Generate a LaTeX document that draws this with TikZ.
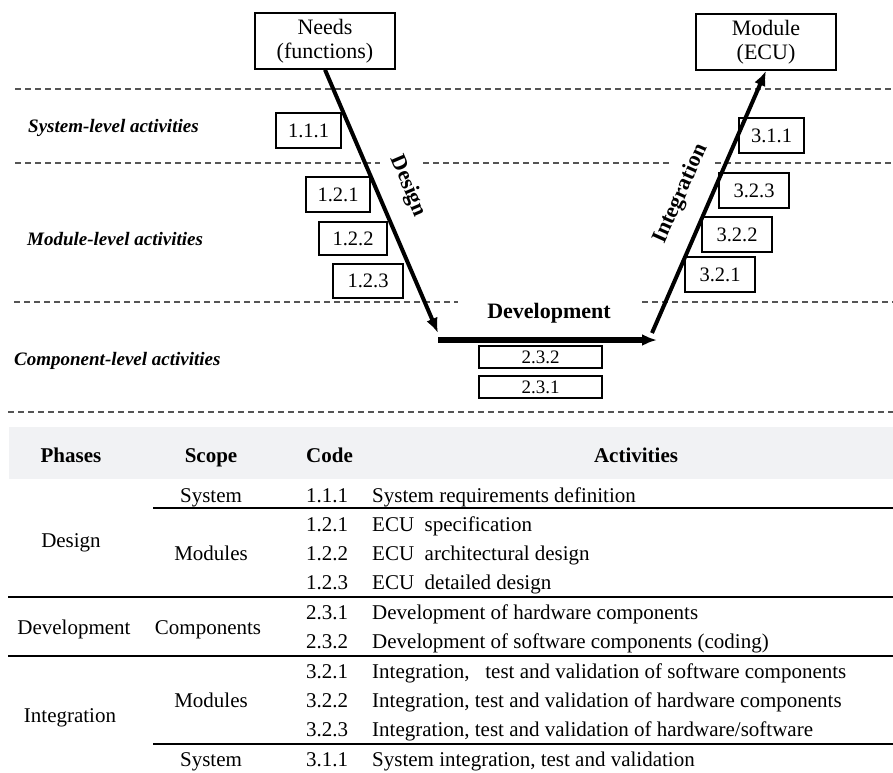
\documentclass[tikz,border=0pt]{standalone}
\usepackage{fontspec}
\setmainfont{Liberation Serif}
\usetikzlibrary{arrows.meta}
\definecolor{hdrgray}{HTML}{F1F2F4}
\definecolor{dashgray}{HTML}{555555}
\begin{document}
\begin{tikzpicture}[x=1pt,y=-1pt,
  lvl/.style={font=\fontsize{19}{22}\selectfont\bfseries\itshape,anchor=base west,inner sep=0},
  codebox/.style={draw,line width=1.3pt,fill=white,inner sep=0,font=\fontsize{20.5}{22}\selectfont},
  endbox/.style={draw,line width=1.5pt,fill=white,align=center,inner sep=0,minimum width=140,minimum height=56,font=\fontsize{22}{24}\selectfont},
  phaselbl/.style={font=\fontsize{22}{25}\selectfont\bfseries,inner sep=0},
  guide/.style={draw=dashgray,line width=1.1pt,dash pattern=on 6pt off 4pt},
  flow/.style={line width=4pt,-{Latex[length=15pt,width=12pt]}},
  tb/.style={font=\fontsize{21}{25}\selectfont,anchor=base,inner sep=0},
  tbl/.style={tb,anchor=base west},
  tbh/.style={tb,font=\fontsize{21}{25}\selectfont\bfseries}]
\useasboundingbox (0,0) rectangle (893,772);
% level bands
\draw[guide] (15,89)--(893,89);
\draw[guide] (15,163)--(380,163);\draw[guide] (423,163)--(670,163);\draw[guide] (715,163)--(893,163);
\draw[guide] (14,302)--(458,302);\draw[guide] (642,302)--(893,302);\draw[guide] (8,412)--(893,412);
\node[lvl] (syslvl) at (28,132) {System-level activities};
\node[lvl] (modlvl) at (27,245) {Module-level activities};
\node[lvl] (cmplvl) at (14,365) {Component-level activities};
% V shape
\node[endbox] (needs) at (325,41) {Needs\\(functions)};
\node[endbox] (module) at (766,42) {Module\\(ECU)};
\node[phaselbl,rotate=-67] (designlbl) at (408,186) {Design};
\node[phaselbl,rotate=66] (integlbl) at (681,194) {Integration};
\node[phaselbl,anchor=base] (devlbl) at (549,318) {Development};
\node[codebox,minimum width=65,minimum height=35] (c111) at (308.5,130.5) {1.1.1};
\node[codebox,minimum width=64,minimum height=35] (c121) at (338,194.5) {1.2.1};
\node[codebox,minimum width=68,minimum height=33] (c122) at (353,238.5) {1.2.2};
\node[codebox,minimum width=70,minimum height=34] (c123) at (368,281) {1.2.3};
\node[codebox,minimum width=65,minimum height=35] (c311) at (771.5,135.5) {3.1.1};
\node[codebox,minimum width=70,minimum height=35] (c323) at (754,190.5) {3.2.3};
\node[codebox,minimum width=70,minimum height=35] (c322) at (737,234.5) {3.2.2};
\node[codebox,minimum width=70,minimum height=35] (c321) at (720,274.5) {3.2.1};
\node[codebox,minimum width=123,minimum height=22,font=\fontsize{19}{20}\selectfont] (c232) at (540.5,357) {2.3.2};
\node[codebox,minimum width=123,minimum height=22,font=\fontsize{19}{20}\selectfont] (c231) at (540.5,387) {2.3.1};
\coordinate (vleft) at (438,333);\coordinate (vright) at (652,333);
\coordinate (devA) at (438,340);\coordinate (devB) at (657,340);
\draw[flow] (needs.south)--(vleft);
\draw[flow,line width=6pt] (devA)--(devB);
\draw[flow] (vright)--(module.south);
% table
\fill[hdrgray] (9,427) rectangle (893,479);
\node[tbh] (hphase) at (71,462) {Phases};\node[tbh] (hscope) at (211,462) {Scope};
\node[tbh,anchor=base west] (hcode) at (306,462) {Code};\node[tbh] (hact) at (636,462) {Activities};
\node[tb] (pdes) at (71,547) {Design};\node[tb] (pdev) at (74,634) {Development};\node[tb] (pint) at (70,722) {Integration};
\node[tb] (s1) at (211,502) {System};\node[tb] (s2) at (211,560) {Modules};\node[tb] (s3) at (208,634) {Components};
\node[tb] (s4) at (211,707) {Modules};\node[tb] (s5) at (211,766) {System};
\node[tbl] (k111) at (306,502) {1.1.1};\node[tbl] (a111) at (372,502) {System requirements definition};
\node[tbl] (k121) at (306,531) {1.2.1};\node[tbl] (a121) at (372,531) {ECU\ \ specification};
\node[tbl] (k122) at (306,560) {1.2.2};\node[tbl] (a122) at (372,560) {ECU\ \ architectural design};
\node[tbl] (k123) at (306,589) {1.2.3};\node[tbl] (a123) at (372,589) {ECU\ \ detailed design};
\node[tbl] (k231) at (306,619) {2.3.1};\node[tbl] (a231) at (372,619) {Development of hardware components};
\node[tbl] (k232) at (306,648) {2.3.2};\node[tbl] (a232) at (372,648) {Development of software components (coding)};
\node[tbl] (k321) at (306,678) {3.2.1};\node[tbl] (a321) at (372,678) {Integration,\ \ \ test and validation of software components};
\node[tbl] (k322) at (306,707) {3.2.2};\node[tbl] (a322) at (372,707) {Integration, test and validation of hardware components};
\node[tbl] (k323) at (306,736) {3.2.3};\node[tbl] (a323) at (372,736) {Integration, test and validation of hardware/software};
\node[tbl] (k311) at (306,766) {3.1.1};\node[tbl] (a311) at (372,766) {System integration, test and validation};
\draw[line width=1.3pt] (153,508)--(893,508);\draw[line width=1.3pt] (8,597)--(893,597);
\draw[line width=1.3pt] (8,656)--(893,656);\draw[line width=1.3pt] (153,744)--(893,744);
\end{tikzpicture}
\end{document}
